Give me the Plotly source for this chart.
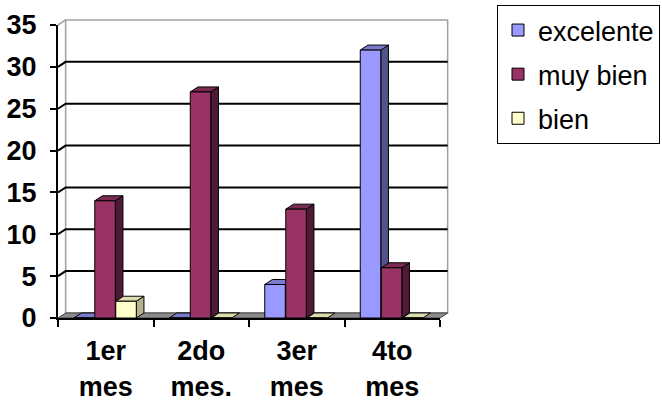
import plotly.graph_objects as go

# ---- data ----
categories = ["1er<br>mes", "2do<br>mes.", "3er<br>mes", "4to<br>mes"]
series_names = ["excelente", "muy bien", "bien"]
excelente = [0, 0, 4, 32]
muy_bien = [14, 27, 13, 6]
bien = [2, 0, 0, 0]
y_ticks = [0, 5, 10, 15, 20, 25, 30, 35]

# ---- style ----
front_colors = ["#9999ff", "#993366", "#ffffcc"]
top_colors = ["#7a7acc", "#7a2952", "#dcdcae"]
side_colors = ["#54548c", "#4f1a35", "#b3b38c"]
offsets = [-0.335, -0.115, 0.105]
bar_w = 0.215
Y_MAX = 35
N_CAT = len(categories)
DX = 0.08           # depth in category units
DY = 0.6            # depth in y units
DXP = DX / N_CAT    # depth in paper x
DYP = DY / Y_MAX    # depth in paper y

values = [excelente, muy_bien, bien]

fig = go.Figure()
for name, vals, col, off in zip(series_names, values, front_colors, offsets):
    fig.add_trace(go.Bar(
        name=name, x=categories, y=vals, width=bar_w, offset=off,
        marker=dict(color=col, line=dict(color="black", width=1)),
        legendgroup=name, hoverinfo="x+y+name",
    ))

shapes = []
# back wall
shapes.append(dict(type="rect", xref="paper", yref="paper",
                   x0=DXP, x1=1 + DXP, y0=DYP, y1=1 + DYP,
                   line=dict(color="#a0a0a0", width=1.5), fillcolor="white", layer="below"))
# left side wall top edge
shapes.append(dict(type="line", xref="paper", yref="paper",
                   x0=0, y0=1, x1=DXP, y1=1 + DYP,
                   line=dict(color="#a0a0a0", width=1.5), layer="below"))
# gridlines (side-wall diagonal + back wall)
for t in y_ticks[1:-1]:
    yp = t / Y_MAX
    shapes.append(dict(type="path", xref="paper", yref="paper",
                       path=f"M 0,{yp} L {DXP},{yp + DYP} L {1 + DXP},{yp + DYP}",
                       line=dict(color="black", width=2), layer="below"))
# floor
shapes.append(dict(type="path", xref="paper", yref="paper",
                   path=f"M 0,0 L 1,0 L {1 + DXP},{DYP} L {DXP},{DYP} Z",
                   fillcolor="#8c8c8c", line=dict(color="#404040", width=1), layer="below"))

# 3D faces of every bar
for vals, off, tc, sc in zip(values, offsets, top_colors, side_colors):
    for i, v in enumerate(vals):
        x0 = i + off
        x1 = x0 + bar_w
        if v > 0:
            shapes.append(dict(type="path", xref="x", yref="y",
                               path=f"M {x1},0 L {x1 + DX},{DY} L {x1 + DX},{v + DY} L {x1},{v} Z",
                               fillcolor=sc, line=dict(color="black", width=1), layer="below"))
        shapes.append(dict(type="path", xref="x", yref="y",
                           path=f"M {x0},{v} L {x1},{v} L {x1 + DX},{v + DY} L {x0 + DX},{v + DY} Z",
                           fillcolor=tc, line=dict(color="black", width=1), layer="below"))

axis_font = dict(family="Liberation Sans, Arial, sans-serif", size=27, color="black", weight="bold")

fig.update_layout(
    width=662, height=402,
    margin=dict(l=58, r=222, t=25, b=84),
    paper_bgcolor="white", plot_bgcolor="rgba(0,0,0,0)",
    shapes=shapes,
    showlegend=True,
    legend=dict(
        xref="container", yref="container", x=497 / 662, y=1 - 5 / 402,
        xanchor="left", yanchor="top",
        bordercolor="black", borderwidth=1, bgcolor="white",
        font=dict(family="Liberation Sans, Arial, sans-serif", size=27, color="black"),
        tracegroupgap=6, traceorder="grouped",
    ),
    xaxis=dict(
        type="category", range=[-0.5, N_CAT - 0.5], automargin=False,
        showline=True, linecolor="black", linewidth=2,
        ticks="outside", tickson="boundaries", ticklen=7, tickwidth=2, tickcolor="black",
        showgrid=False, tickfont=axis_font, ticklabelstandoff=8,
    ),
    yaxis=dict(
        range=[0, Y_MAX], tickvals=y_ticks, automargin=False,
        showline=True, linecolor="black", linewidth=2,
        ticks="outside", ticklen=6, tickwidth=2, tickcolor="black",
        showgrid=False, zeroline=False, tickfont=axis_font, ticklabelstandoff=8,
    ),
    bargap=0.3,
)

fig.write_html("out.html")
